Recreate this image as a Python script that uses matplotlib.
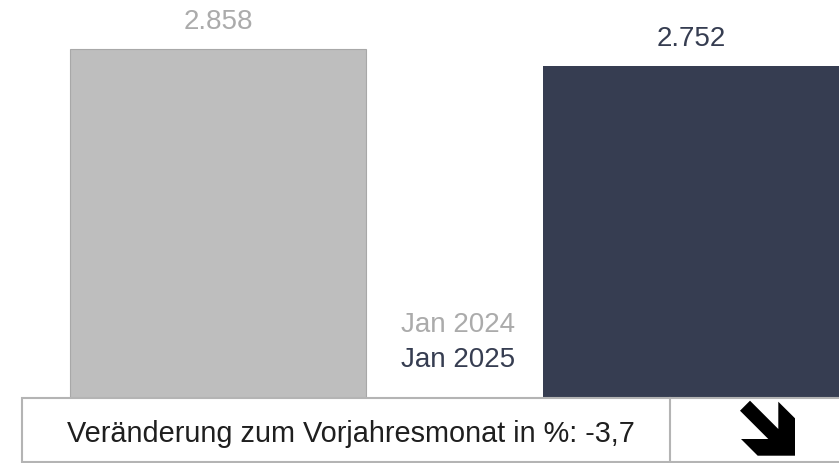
import matplotlib
matplotlib.use("Agg")
import matplotlib.pyplot as plt
from matplotlib.patches import Rectangle, Polygon

# data
months = ["Jan 2024", "Jan 2025"]
values = [2858, 2752]
value_labels = ["2.858", "2.752"]
change_text = "Veränderung zum Vorjahresmonat in %: -3,7"

bar_colors = ["#bebebe", "#363d51"]
label_colors = ["#ababab", "#363d51"]

W, H = 839, 464
plt.rcParams["font.family"] = ["Liberation Sans", "DejaVu Sans"]

fig = plt.figure(figsize=(W / 100, H / 100), dpi=100)


def fx(x):
    return x / W


def fy(y):
    return 1 - y / H


# bars start below the visible area (hidden by the box)
ax = fig.add_axes([0, fy(508), 1, 508 / H])
ax.set_axis_off()
pos = [0, 1]
bars = ax.bar(pos, values, width=0.626, color=bar_colors)
bars[0].set_edgecolor("#a8a8a8")
bars[0].set_linewidth(0.8)
ax.set_xlim(-0.461, 1.313)
ax.set_ylim(0, 3169)

for p, v, t, c in zip(pos, values, value_labels, label_colors):
    ax.annotate(t, (p, v), xytext=(0, 28), textcoords="offset pixels",
                ha="center", va="center", fontsize=20, color=c)

# legend-like month labels
fig.text(fx(515), fy(325), months[0], ha="right", va="center",
         fontsize=20, color=label_colors[0])
fig.text(fx(515), fy(360), months[1], ha="right", va="center",
         fontsize=20, color=label_colors[1])

# box below the bars
box = Rectangle((fx(22), fy(463)), fx(839 - 22 + 2), (463 - 399) / H,
                transform=fig.transFigure, facecolor="white",
                edgecolor="#b4b4b4", lw=1.5, clip_on=False)
fig.add_artist(box)
fig.add_artist(plt.Line2D([fx(670), fx(670)], [fy(399), fy(463)],
                          transform=fig.transFigure, color="#b4b4b4", lw=1.5))

fig.text(fx(351), fy(434), change_text, ha="center", va="center",
         fontsize=20.8, color="#1f1f1f")

# arrow pointing down-right
arrow_px = [(750, 401.7), (778.3, 430), (778.3, 402.7), (795, 419.3),
            (795, 456.7), (757.7, 456.7), (741, 440), (768.3, 440),
            (740, 411.7)]
arrow = Polygon([(fx(x), fy(y)) for x, y in arrow_px], closed=True,
                transform=fig.transFigure, facecolor="black", edgecolor="none")
fig.add_artist(arrow)

fig.savefig("out.png", dpi=100)
